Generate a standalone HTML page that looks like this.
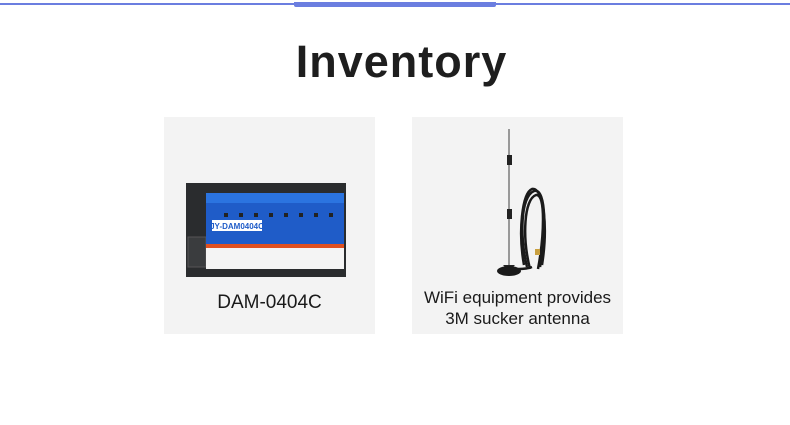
<!DOCTYPE html>
<html><head><meta charset="utf-8"><style>
body{margin:0;width:790px;height:425px;background:#fff;position:relative;overflow:hidden;font-family:"Liberation Sans",sans-serif}
.card{position:absolute;top:117px;width:211px;height:217px;background:#f3f3f3}
.lbl{position:absolute;width:100%;text-align:center;color:#1a1a1a;font-size:17px}
</style></head><body>
<div style="position:absolute;left:0;top:3px;width:790px;height:2px;background:#6b7ee0"></div>
<div style="position:absolute;left:294px;top:2px;width:202px;height:5px;background:#6b7ee0;border-radius:0 0 2px 2px"></div>
<div style="position:absolute;left:0;top:36px;width:803px;text-align:center;font-size:45px;font-weight:bold;color:#1e1e1e;letter-spacing:1px">Inventory</div>
<div class="card" style="left:164px">
<svg width="211" height="217" style="position:absolute;left:0;top:0">
<rect x="22" y="66" width="160" height="94" fill="#2a2c2e"/>
<rect x="24" y="120" width="18" height="30" fill="#3a3c3e" stroke="#555"/>
<rect x="42" y="76" width="138" height="76" fill="#1f5cc8"/>
<rect x="42" y="76" width="138" height="10" fill="#2b74e0"/>
<rect x="48" y="103" width="50" height="11" fill="#fff"/>
<text x="73" y="112" font-size="8" font-weight="bold" fill="#1f5cc8" text-anchor="middle" font-family="Liberation Sans">JY-DAM0404C</text>
<rect x="42" y="127" width="138" height="4" fill="#e05020"/>
<rect x="42" y="131" width="138" height="21" fill="#f4f4f4"/>
<g fill="#222"><rect x="60" y="96" width="4" height="4"/><rect x="75" y="96" width="4" height="4"/><rect x="90" y="96" width="4" height="4"/><rect x="105" y="96" width="4" height="4"/><rect x="120" y="96" width="4" height="4"/><rect x="135" y="96" width="4" height="4"/><rect x="150" y="96" width="4" height="4"/><rect x="165" y="96" width="4" height="4"/></g>
</svg>
<div class="lbl" style="top:175px;font-size:19px">DAM-0404C</div>
</div>
<div class="card" style="left:412px">
<svg width="211" height="217" style="position:absolute;left:0;top:0">
<line x1="97" y1="12" x2="97" y2="150" stroke="#999" stroke-width="2"/>
<rect x="95" y="38" width="5" height="10" fill="#222"/>
<rect x="95" y="92" width="5" height="10" fill="#222"/>
<path d="M93 150 L101 150 L103 148 L91 148Z" fill="#222"/>
<ellipse cx="97" cy="154" rx="12" ry="5" fill="#1a1a1a"/>
<g fill="none" stroke="#1a1a1a" stroke-width="2.5">
<path d="M115 150 C108 120 108 80 122 74 C135 70 134 120 128 150"/>
<path d="M118 152 C110 120 112 82 124 78 C134 76 132 120 126 152"/>
<path d="M112 148 C106 115 110 76 120 72 C132 70 136 110 130 148"/>
<path d="M106 152 Q115 152 120 150"/>
</g>
<rect x="123" y="132" width="5" height="6" fill="#c9a040"/>
</svg>
<div class="lbl" style="top:170px;line-height:21px">WiFi equipment provides<br>3M sucker antenna</div>
</div>
</body></html>
